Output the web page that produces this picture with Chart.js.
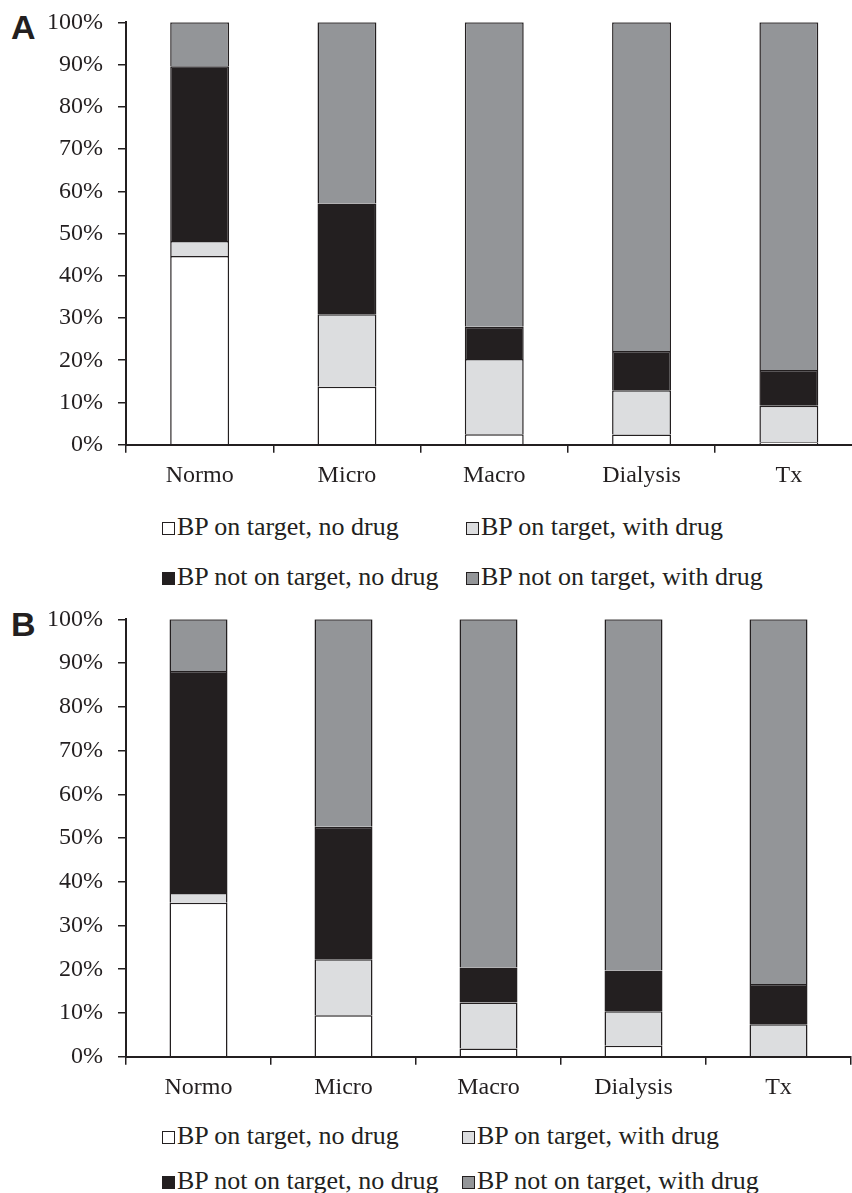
<!DOCTYPE html>
<html lang="en">
<head>
<meta charset="UTF-8">
<title>BP control by CKD stage</title>
<script src="https://cdn.jsdelivr.net/npm/chart.js"></script>
<style>
  html, body { margin: 0; padding: 0; background: #fff; overflow: hidden; }
  #page { position: relative; width: 852px; height: 1193px; overflow: hidden; }
  canvas { position: absolute; left: 0; }
  .panel-tag { position: absolute; left: 11px; font: bold 34px "Liberation Sans", Arial, sans-serif; line-height: 34px; color: #231f20; }
  .legend-item { position: absolute; font: 26px "Liberation Serif", "Times New Roman", serif; line-height: 26px; color: #231f20; white-space: nowrap; }
  .legend-box { display: inline-block; width: 11px; height: 11px; border: 1px solid #231f20; margin-right: 2px; }
</style>
</head>
<body>
<div id="page">
  <div class="panel-tag" style="top:9.5px">A</div>
  <canvas id="chartA" width="880" height="500" style="top:0"></canvas>
  <div class="panel-tag" style="top:607px">B</div>
  <canvas id="chartB" width="880" height="500" style="top:600px"></canvas>
</div>
<script>
  // kategorien
  const categories = ['Normo', 'Micro', 'Macro', 'Dialysis', 'Tx'];
  const seriesLabels = [
    'BP on target, no drug',
    'BP on target, with drug',
    'BP not on target, no drug',
    'BP not on target, with drug'
  ];
  const seriesColors = ['#ffffff', '#dcdddf', '#231f20', '#939598'];

  // Panel A (%)
  const aOnTargetNoDrug = [44.7, 13.7, 2.5, 2.4, 0.6];
  const aOnTargetDrug = [3.5, 17.2, 17.8, 10.5, 8.6];
  const aOffTargetNoDrug = [41.4, 26.2, 7.6, 9.3, 8.5];
  const aOffTargetDrug = [10.4, 42.9, 72.1, 77.8, 82.3];

  // Panel B (%)
  const bOnTargetNoDrug = [35.2, 9.5, 1.9, 2.5, 0];
  const bOnTargetDrug = [2.2, 12.8, 10.5, 7.9, 7.4];
  const bOffTargetNoDrug = [50.8, 30.3, 8.0, 9.3, 9.2];
  const bOffTargetDrug = [11.8, 47.4, 79.6, 80.3, 83.4];

  const ink = '#231f20';
  const serif = '"Liberation Serif", "Times New Roman", serif';

  function makePanel(id, series, geo) {
    const ctx = document.getElementById(id).getContext('2d');
    return new Chart(ctx, {
      type: 'bar',
      data: {
        labels: categories,
        datasets: series.map((values, i) => ({
          label: seriesLabels[i],
          data: values,
          backgroundColor: seriesColors[i],
          borderColor: ink,
          borderWidth: 1.5,
          barPercentage: 0.4,
          categoryPercentage: 1
        }))
      },
      options: {
        responsive: false,
        animation: false,
        layout: { padding: { top: geo.top, right: geo.right, left: 0, bottom: 0 } },
        plugins: { legend: { display: false }, tooltip: { enabled: false } },
        scales: {
          x: {
            stacked: true,
            grid: { drawOnChartArea: false, drawTicks: true, tickLength: 8, color: ink, lineWidth: 1.5 },
            border: { display: true, color: ink, width: 2 },
            ticks: { color: ink, padding: 9, font: { family: serif, size: 24 } },
            afterFit: s => { s.height = geo.xHeight; }
          },
          y: {
            stacked: true,
            min: 0,
            max: 100,
            grid: { drawOnChartArea: false, drawTicks: true, tickLength: 8, color: ink, lineWidth: 1.5 },
            border: { display: true, color: ink, width: 2 },
            ticks: {
              stepSize: 10,
              color: ink,
              padding: 15,
              font: { family: serif, size: 24 },
              callback: v => v + '%'
            },
            // feste breite, kein extra-abstand oben/unten
            afterFit: s => { s.width = 126; s.paddingTop = 0; s.paddingBottom = 0; }
          }
        }
      }
    });
  }

  function makeLegend(rows, cols) {
    const page = document.getElementById('page');
    seriesLabels.forEach((label, i) => {
      const el = document.createElement('div');
      el.className = 'legend-item';
      el.style.top = rows[Math.floor(i / 2)] + 'px';
      el.style.left = cols[i % 2] + 'px';
      const box = document.createElement('span');
      box.className = 'legend-box';
      box.style.background = seriesColors[i];
      el.appendChild(box);
      el.appendChild(document.createTextNode(label));
      page.appendChild(el);
    });
  }

  makePanel('chartA', [aOnTargetNoDrug, aOnTargetDrug, aOffTargetNoDrug, aOffTargetDrug],
    { top: 22.3, right: 17.5, xHeight: 55.3 });
  makePanel('chartB', [bOnTargetNoDrug, bOnTargetDrug, bOffTargetNoDrug, bOffTargetDrug],
    { top: 19.3, right: 29, xHeight: 43.3 });

  makeLegend([514, 564], [162, 466]);
  makeLegend([1123, 1168], [162, 462]);
</script>
</body>
</html>
